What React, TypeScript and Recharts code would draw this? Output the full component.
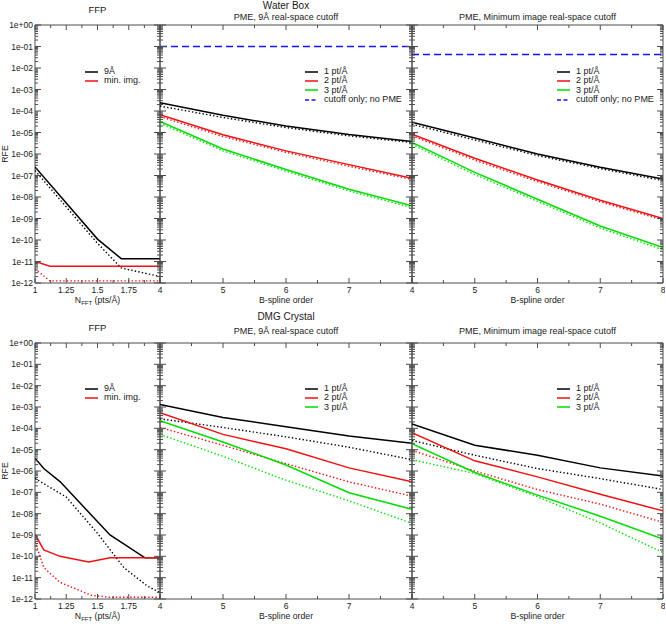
import React from 'react';
import { LineChart, Line, XAxis, YAxis, ReferenceArea, Legend, Label } from 'recharts';

const FONT = '"Liberation Sans", Arial, Helvetica, sans-serif';
const AXIS_COLOR = '#4d4d4d';
const TEXT_COLOR = '#1a1a1a';
const BLACK = '#000000';
const RED = '#f01010';
const GREEN = '#00dd00';
const BLUE = '#1414ff';

// ---------- ticks & labels ----------
const yMajorTicks = [1e-12, 1e-11, 1e-10, 1e-9, 1e-8, 1e-7, 1e-6, 1e-5, 1e-4, 1e-3, 1e-2, 1e-1, 1];
const yMajorLabels = ['1e-12', '1e-11', '1e-10', '1e-09', '1e-08', '1e-07', '1e-06', '1e-05', '1e-04', '1e-03', '1e-02', '1e-01', '1e+00'];
const yMinorMultipliers = [2, 3, 4, 5, 6, 7, 8, 9];
const nfftTicks = [1, 1.125, 1.25, 1.375, 1.5, 1.625, 1.75, 1.875, 2];
const nfftTickLabels = ['1', '', '1.25', '', '1.5', '', '1.75', '', ''];
const splineTicks = [4, 4.5, 5, 5.5, 6, 6.5, 7, 7.5, 8];
const splineTickLabelsMid = ['4', '', '5', '', '6', '', '7', '', ''];
const splineTickLabelsRight = ['4', '', '5', '', '6', '', '7', '', '8'];

// ---------- data: FFP, water box ----------
const ffpWbX_9A = [1, 1.5, 1.69, 2];
const ffpWb_9A = [2.5e-7, 1.1e-10, 1.35e-11, 1.35e-11];
const ffpWbX_9AEst = [1, 1.5, 1.69, 2];
const ffpWb_9AEst = [1.7e-7, 7e-11, 5e-12, 2e-12];
const ffpWbX_min = [1, 1.12, 2];
const ffpWb_min = [1e-11, 6e-12, 6e-12];
const ffpWbX_minEst = [1, 1.12, 2];
const ffpWb_minEst = [4.5e-12, 1.25e-12, 1.25e-12];

// ---------- data: FFP, DMG crystal ----------
const ffpDmgX_9A = [1, 1.07, 1.2, 1.6, 1.88, 2];
const ffpDmg_9A = [4e-6, 1.3e-6, 3.2e-7, 1e-9, 8.5e-11, 8.5e-11];
const ffpDmgX_9AEst = [1, 1.25, 1.5, 1.71, 1.9, 2];
const ffpDmg_9AEst = [4.5e-7, 6e-8, 1.2e-9, 3e-11, 4e-12, 2e-12];
const ffpDmgX_min = [1, 1.07, 1.2, 1.43, 1.6, 2];
const ffpDmg_min = [1.1e-9, 2e-10, 1e-10, 5.5e-11, 8.5e-11, 8.5e-11];
const ffpDmgX_minEst = [1, 1.07, 1.2, 1.45, 1.6, 2];
const ffpDmg_minEst = [5e-10, 3e-11, 6e-12, 1.5e-12, 1.2e-12, 1.2e-12];

// ---------- data: PME vs B-spline order ----------
const splineOrders = [4, 5, 6, 7, 8];

// Water box, PME 9 Å cutoff
const wb9_1pt = [2.4e-4, 6.3e-5, 2.0e-5, 8.0e-6, 3.8e-6];
const wb9_1ptEst = [1.7e-4, 5.0e-5, 1.7e-5, 7.0e-6, 3.4e-6];
const wb9_2pt = [6.7e-5, 7.8e-6, 1.4e-6, 3.2e-7, 7.4e-8];
const wb9_2ptEst = [5.5e-5, 6.5e-6, 1.2e-6, 2.7e-7, 6.5e-8];
const wb9_3pt = [3.3e-5, 1.7e-6, 1.9e-7, 2.3e-8, 3.9e-9];
const wb9_3ptEst = [2.7e-5, 1.4e-6, 1.6e-7, 1.9e-8, 3.2e-9];
const wb9_cutoffOnly = [0.1, 0.1, 0.1, 0.1, 0.1];

// Water box, PME minimum image cutoff
const wbMin_1pt = [3.0e-5, 5.5e-6, 1.0e-6, 2.4e-7, 6.8e-8];
const wbMin_1ptEst = [2.4e-5, 4.5e-6, 8.5e-7, 2.1e-7, 5.8e-8];
const wbMin_2pt = [8.3e-6, 6.3e-7, 6.2e-8, 7.1e-9, 1.0e-9];
const wbMin_2ptEst = [7.0e-6, 5.2e-7, 5.2e-8, 6.0e-9, 8.5e-10];
const wbMin_3pt = [3.5e-6, 1.4e-7, 7.9e-9, 4.5e-10, 4.4e-11];
const wbMin_3ptEst = [2.8e-6, 1.1e-7, 6.3e-9, 3.6e-10, 3.5e-11];
const wbMin_cutoffOnly = [0.043, 0.043, 0.043, 0.043, 0.043];

// DMG crystal, PME 9 Å cutoff
const dmg9_1pt = [1.3e-3, 3.2e-4, 1.2e-4, 4.4e-5, 2.0e-5];
const dmg9_1ptEst = [2.8e-4, 1.1e-4, 4.0e-5, 1.3e-5, 3.4e-6];
const dmg9_2pt = [5.4e-4, 5.2e-5, 1.1e-5, 1.4e-6, 3.1e-7];
const dmg9_2ptEst = [1.1e-4, 1.6e-5, 2.2e-6, 3.1e-7, 6.6e-8];
const dmg9_3pt = [2.3e-4, 2.3e-5, 1.9e-6, 9.5e-8, 1.6e-8];
const dmg9_3ptEst = [5.2e-5, 4.9e-6, 3.7e-7, 4.0e-8, 3.5e-9];

// DMG crystal, PME minimum image cutoff
const dmgMin_1pt = [1.6e-4, 1.6e-5, 5.5e-6, 1.4e-6, 5.9e-7];
const dmgMin_1ptEst = [2.7e-5, 5.5e-6, 1.3e-6, 4.4e-7, 1.35e-7];
const dmgMin_2pt = [6.2e-5, 3.0e-6, 5.3e-7, 8.2e-8, 1.35e-8];
const dmgMin_2ptEst = [9.3e-6, 1.0e-6, 1.35e-7, 2.8e-8, 3.9e-9];
const dmgMin_3pt = [1.9e-5, 8.5e-7, 7.4e-8, 7.6e-9, 6.5e-10];
const dmgMin_3ptEst = [3.4e-6, 7.6e-7, 6.2e-8, 3.7e-9, 1.5e-10];

// ---------- helpers ----------
const yTicksAll: number[] = yMajorTicks.flatMap((d, i) =>
  i < yMajorTicks.length - 1 ? [d, ...yMinorMultipliers.map((m) => m * d)] : [d]
);

const pts = (xs: number[], ys: number[]) => xs.map((x, i) => ({ x, y: ys[i] }));

const majorIndex = (v: number) =>
  yMajorTicks.findIndex((m) => Math.abs(Math.log10(v) - Math.log10(m)) < 1e-6);

type Series = { name: string; data: { x: number; y: number }[]; color: string; dash?: string; legend: boolean };

const DOT = '1.4 2.2';
const DASH = '7 4';

function makeYTick(plotW: number, showLabels: boolean) {
  return (props: any) => {
    const { x, y, payload } = props;
    const mi = majorIndex(payload.value);
    const major = mi >= 0;
    const len = major ? 6 : 3;
    return (
      <g>
        <line x1={x} y1={y} x2={x + len} y2={y} stroke={AXIS_COLOR} strokeWidth={1} />
        <line x1={x + plotW} y1={y} x2={x + plotW - len} y2={y} stroke={AXIS_COLOR} strokeWidth={1} />
        {showLabels && major ? (
          <text x={x - 2} y={y + 3} textAnchor="end" fontSize={8.5} fill={TEXT_COLOR} fontFamily={FONT}>
            {yMajorLabels[mi]}
          </text>
        ) : null}
      </g>
    );
  };
}

function makeXTick(plotH: number, labels: string[]) {
  return (props: any) => {
    const { x, y, index } = props;
    const major = index % 2 === 0;
    const len = major ? 5 : 3;
    const lab = labels[index];
    return (
      <g>
        <line x1={x} y1={y} x2={x} y2={y - len} stroke={AXIS_COLOR} strokeWidth={1} />
        <line x1={x} y1={y - plotH} x2={x} y2={y - plotH + len} stroke={AXIS_COLOR} strokeWidth={1} />
        {lab ? (
          <text x={x} y={y + 10} textAnchor="middle" fontSize={8.5} fill={TEXT_COLOR} fontFamily={FONT}>
            {lab}
          </text>
        ) : null}
      </g>
    );
  };
}

const isEstimateEntry = (e: any) =>
  e.type === 'none' ||
  (e.payload && (e.payload.legendType === 'none' || e.payload.strokeDasharray === DOT)) ||
  String(e.value).endsWith('(est)');

const renderLegend = (props: any) => {
  const { payload } = props;
  const entries = (payload || []).filter((e: any) => !isEstimateEntry(e));
  return (
    <div style={{ fontFamily: FONT, fontSize: 9, color: TEXT_COLOR, whiteSpace: 'nowrap' }}>
      {entries.map((e: any, i: number) => (
        <div key={i} style={{ display: 'flex', alignItems: 'center', height: 9.4, lineHeight: '9.4px' }}>
          <svg width={13} height={4} style={{ marginRight: 6, display: 'block' }}>
            <line
              x1={0}
              y1={2}
              x2={13}
              y2={2}
              stroke={e.color}
              strokeWidth={1.5}
              strokeDasharray={e.payload && e.payload.strokeDasharray ? '4 2.5' : undefined}
            />
          </svg>
          <span>{e.value}</span>
        </div>
      ))}
    </div>
  );
};

type PanelProps = {
  boxLeft: number;
  boxTop: number;
  boxWidth: number;
  boxHeight: number;
  plotL: number;
  plotT: number;
  plotW: number;
  plotH: number;
  xDomain: [number, number];
  xTicks: number[];
  xLabels: string[];
  showYLabels: boolean;
  xTitle: 'nfft' | 'spline';
  series: Series[];
  legendLeft: number;
  legendTop: number;
};

function Panel(p: PanelProps) {
  const margin = {
    top: p.plotT - p.boxTop,
    right: p.boxLeft + p.boxWidth - (p.plotL + p.plotW),
    bottom: 0,
    left: 0,
  };
  const yW = p.plotL - p.boxLeft;
  const xH = p.boxTop + p.boxHeight - (p.plotT + p.plotH);

  const xTitleContent = (props: any) => {
    const vb = props.viewBox || {};
    const cx = vb.x + vb.width / 2;
    const by = vb.y + 19.5;
    if (p.xTitle === 'nfft') {
      return (
        <text x={cx} y={by} textAnchor="middle" fontSize={8.7} fill={TEXT_COLOR} fontFamily={FONT}>
          <tspan>N</tspan>
          <tspan fontSize={6} dy={2.5}>FFT</tspan>
          <tspan dy={-2.5}> (pts/Å)</tspan>
        </text>
      );
    }
    return (
      <text x={cx} y={by} textAnchor="middle" fontSize={8.7} fill={TEXT_COLOR} fontFamily={FONT}>
        B-spline order
      </text>
    );
  };

  const yTitleContent = (props: any) => {
    const vb = props.viewBox || {};
    const cy = vb.y + vb.height / 2;
    const cx = vb.x + 8;
    return (
      <text
        x={cx}
        y={cy}
        textAnchor="middle"
        fontSize={8.7}
        fill={TEXT_COLOR}
        fontFamily={FONT}
        transform={`rotate(-90 ${cx} ${cy})`}
      >
        RFE
      </text>
    );
  };

  return (
    <div style={{ position: 'absolute', left: p.boxLeft, top: p.boxTop, width: p.boxWidth, height: p.boxHeight }}>
      <LineChart width={p.boxWidth} height={p.boxHeight} margin={margin}>
        <XAxis
          type="number"
          dataKey="x"
          domain={p.xDomain}
          allowDataOverflow
          ticks={p.xTicks}
          interval={0}
          height={xH}
          tickSize={0}
          tickMargin={0}
          tickLine={false}
          axisLine={false}
          tick={makeXTick(p.plotH, p.xLabels)}
          label={<Label content={xTitleContent} />}
        />
        <YAxis
          type="number"
          scale="log"
          domain={[1e-12, 1]}
          allowDataOverflow
          ticks={yTicksAll}
          interval={0}
          width={yW}
          tickSize={0}
          tickMargin={0}
          tickLine={false}
          axisLine={false}
          tick={makeYTick(p.plotW, p.showYLabels)}
          label={p.showYLabels ? <Label content={yTitleContent} /> : undefined}
        />
        <ReferenceArea
          x1={p.xDomain[0]}
          x2={p.xDomain[1]}
          y1={1e-12}
          y2={1}
          fill="none"
          fillOpacity={0}
          stroke={AXIS_COLOR}
          strokeWidth={1}
          ifOverflow="visible"
        />
        {p.series
          .filter((s) => !s.legend)
          .map((s, i) => (
            <Line
              key={'e' + i}
              data={s.data}
              dataKey="y"
              name={s.name}
              type="linear"
              stroke={s.color}
              strokeWidth={1.4}
              strokeDasharray={s.dash}
              dot={false}
              activeDot={false}
              legendType="none"
              isAnimationActive={false}
            />
          ))}
        {p.series
          .filter((s) => s.legend)
          .map((s, i) => (
            <Line
              key={'s' + i}
              data={s.data}
              dataKey="y"
              name={s.name}
              type="linear"
              stroke={s.color}
              strokeWidth={1.5}
              strokeDasharray={s.dash}
              dot={false}
              activeDot={false}
              legendType="line"
              isAnimationActive={false}
            />
          ))}
        <Legend
          layout="vertical"
          align="center"
          verticalAlign="middle"
          content={renderLegend}
          wrapperStyle={{ left: p.legendLeft, top: p.legendTop, width: 'auto', height: 'auto' }}
        />
      </LineChart>
    </div>
  );
}

const ffpSeries = (
  x9: number[], y9: number[], x9e: number[], y9e: number[],
  xm: number[], ym: number[], xme: number[], yme: number[]
): Series[] => [
  { name: '9Å (est)', data: pts(x9e, y9e), color: BLACK, dash: DOT, legend: false },
  { name: 'min. img. (est)', data: pts(xme, yme), color: RED, dash: DOT, legend: false },
  { name: '9Å', data: pts(x9, y9), color: BLACK, legend: true },
  { name: 'min. img.', data: pts(xm, ym), color: RED, legend: true },
];

const pmeSeries = (
  a: number[], ae: number[], b: number[], be: number[], c: number[], ce: number[], cut?: number[]
): Series[] => {
  const s: Series[] = [
    { name: '1 pt/Å (est)', data: pts(splineOrders, ae), color: BLACK, dash: DOT, legend: false },
    { name: '2 pt/Å (est)', data: pts(splineOrders, be), color: RED, dash: DOT, legend: false },
    { name: '3 pt/Å (est)', data: pts(splineOrders, ce), color: GREEN, dash: DOT, legend: false },
    { name: '1 pt/Å', data: pts(splineOrders, a), color: BLACK, legend: true },
    { name: '2 pt/Å', data: pts(splineOrders, b), color: RED, legend: true },
    { name: '3 pt/Å', data: pts(splineOrders, c), color: GREEN, legend: true },
  ];
  if (cut) s.push({ name: 'cutoff only; no PME', data: pts(splineOrders, cut), color: BLUE, dash: DASH, legend: true });
  return s;
};

const titleStyle = (cx: number, cy: number, size: number): React.CSSProperties => ({
  position: 'absolute',
  left: cx - 150,
  width: 300,
  top: cy - 6,
  height: 12,
  lineHeight: '12px',
  textAlign: 'center',
  fontSize: size,
  fontFamily: FONT,
  color: TEXT_COLOR,
  whiteSpace: 'nowrap',
});

export default function App() {
  const rows = [
    { top: 0, height: 312, plotT: 25, plotH: 258, legendTop: 67 },
    { top: 312, height: 312, plotT: 343, plotH: 256, legendTop: 72 },
  ];
  const wbFfp = ffpSeries(ffpWbX_9A, ffpWb_9A, ffpWbX_9AEst, ffpWb_9AEst, ffpWbX_min, ffpWb_min, ffpWbX_minEst, ffpWb_minEst);
  const dmgFfp = ffpSeries(ffpDmgX_9A, ffpDmg_9A, ffpDmgX_9AEst, ffpDmg_9AEst, ffpDmgX_min, ffpDmg_min, ffpDmgX_minEst, ffpDmg_minEst);
  const wb9 = pmeSeries(wb9_1pt, wb9_1ptEst, wb9_2pt, wb9_2ptEst, wb9_3pt, wb9_3ptEst, wb9_cutoffOnly);
  const wbMin = pmeSeries(wbMin_1pt, wbMin_1ptEst, wbMin_2pt, wbMin_2ptEst, wbMin_3pt, wbMin_3ptEst, wbMin_cutoffOnly);
  const dmg9 = pmeSeries(dmg9_1pt, dmg9_1ptEst, dmg9_2pt, dmg9_2ptEst, dmg9_3pt, dmg9_3ptEst);
  const dmgMin = pmeSeries(dmgMin_1pt, dmgMin_1ptEst, dmgMin_2pt, dmgMin_2ptEst, dmgMin_3pt, dmgMin_3ptEst);

  const rowSeries = [
    [wbFfp, wb9, wbMin],
    [dmgFfp, dmg9, dmgMin],
  ];

  return (
    <div style={{ position: 'absolute', left: 0, top: 0, width: 666, height: 624, background: '#fff', overflow: 'hidden' }}>
      {rows.map((r, ri) => (
        <React.Fragment key={ri}>
          <Panel
            boxLeft={0} boxTop={r.top} boxWidth={162} boxHeight={r.height}
            plotL={35} plotT={r.plotT} plotW={125} plotH={r.plotH}
            xDomain={[1, 2]} xTicks={nfftTicks} xLabels={nfftTickLabels}
            showYLabels xTitle="nfft" series={rowSeries[ri][0]}
            legendLeft={85} legendTop={r.legendTop}
          />
          <Panel
            boxLeft={150} boxTop={r.top} boxWidth={264} boxHeight={r.height}
            plotL={160} plotT={r.plotT} plotW={252} plotH={r.plotH}
            xDomain={[4, 8]} xTicks={splineTicks} xLabels={splineTickLabelsMid}
            showYLabels={false} xTitle="spline" series={rowSeries[ri][1]}
            legendLeft={155} legendTop={r.legendTop}
          />
          <Panel
            boxLeft={402} boxTop={r.top} boxWidth={263} boxHeight={r.height}
            plotL={412} plotT={r.plotT} plotW={251} plotH={r.plotH}
            xDomain={[4, 8]} xTicks={splineTicks} xLabels={splineTickLabelsRight}
            showYLabels={false} xTitle="spline" series={rowSeries[ri][2]}
            legendLeft={155} legendTop={r.legendTop}
          />
        </React.Fragment>
      ))}
      <div style={titleStyle(97.5, 10, 9.5)}>FFP</div>
      <div style={titleStyle(286, 6, 10)}>Water Box</div>
      <div style={titleStyle(286, 16.5, 9)}>PME, 9Å real-space cutoff</div>
      <div style={titleStyle(537.5, 16.5, 9)}>PME, Minimum image real-space cutoff</div>
      <div style={titleStyle(97.5, 328, 9.5)}>FFP</div>
      <div style={titleStyle(286, 317, 10)}>DMG Crystal</div>
      <div style={titleStyle(286, 331, 9)}>PME, 9Å real-space cutoff</div>
      <div style={titleStyle(537.5, 331, 9)}>PME, Minimum image real-space cutoff</div>
    </div>
  );
}
